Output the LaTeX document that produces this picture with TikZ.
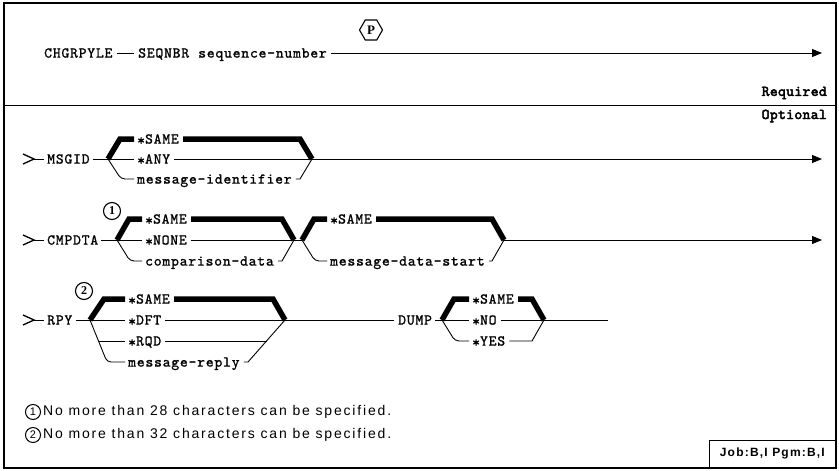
\documentclass[tikz,border=0pt]{standalone}
\usepackage{fontspec}
\usetikzlibrary{arrows.meta,shapes.symbols}
\newfontfamily\rf[LetterSpace=5,FakeBold=1.2]{lmmono10-regular.otf}
\newfontfamily\rqf[LetterSpace=2,FakeBold=3]{lmmono10-regular.otf}
\newfontfamily\notef[LetterSpace=13]{Liberation Sans}
\newfontfamily\jobf[LetterSpace=10]{Liberation Sans Bold}
\newfontfamily\numf{Liberation Serif Bold}
\newcommand\labfont{\rf\fontsize{15}{17}\selectfont}
\newcommand\stx{\raisebox{-1.5pt}{*}}
\begin{document}
\begin{tikzpicture}[x=1pt,y=-1pt,
  lab/.style={font=\labfont, inner sep=0pt, anchor=west, text height=9.2pt, text depth=0pt},
  ln/.style={line width=0.9pt},
  bar/.style={line width=5.5pt, line join=miter},
  arr/.style={ln, -{Triangle[length=10pt,width=8pt]}},
  chev/.style={line width=1.3pt},
  num/.style={draw, circle, line width=1.1pt, inner sep=0pt, minimum size=17pt, font=\numf\fontsize{12}{12}\selectfont},
  fnum/.style={draw, circle, line width=1pt, inner sep=0pt, minimum size=15pt, font=\notef\fontsize{11}{11}\selectfont},
  note/.style={font=\notef\fontsize{14}{16}\selectfont, inner sep=0pt, anchor=west},
  side/.style={font=\rqf\fontsize{15}{17}\selectfont, inner sep=0pt, anchor=east},
  hexa/.style={draw, line width=1.1pt, signal, signal to=west and east, signal pointer angle=120,
     inner sep=1pt, minimum width=23pt, minimum height=20pt, font=\numf\fontsize{13}{13}\selectfont}
]
\useasboundingbox (0,0) rectangle (839,471);
% frame
\draw[line width=1.3pt] (4,3) rectangle (836,468);
\draw[ln] (4,105) -- (836,105);

% ---------------- row 1
\node[lab] (chg) at (44,53) {CHGRPYLE};
\node[lab] (seqkw) at (138,53) {SEQNBR};
\node[lab] (seqv) at (198,53) {sequence-number};
\draw[ln] ([xshift=4pt]chg.east) -- ([xshift=-4pt]seqkw.west);
\coordinate (e1) at (822,53);
\draw[arr] ([xshift=4pt]seqv.east) -- (e1);
\node[hexa] (pp) at (371,30) {P};

\node[side] (req) at (827,93) {Required};
\node[side] (opt) at (827,116) {Optional};

% ---------------- MSGID
\coordinate (s1) at (23,159);
\draw[chev] (s1) ++(0,-5) -- ++(11,5) -- ++(-11,5);
\node[lab] (msgid) at (47,159) {MSGID};
\draw[ln] ([xshift=11pt]s1) -- ([xshift=-3pt]msgid.west);
\coordinate (f1) at (108,159);
\coordinate (j1) at (312,159);
\node[lab] (m1a) at (137,139) {\stx SAME};
\node[lab] (m1b) at (137,159) {\stx ANY};
\node[lab] (m1c) at (137,179) {message-identifier};
\draw[ln] ([xshift=3pt]msgid.east) -- (f1);
\draw[bar] (f1) -- (120,139) -- ([xshift=-3pt]m1a.west);
\draw[ln] (f1) -- ([xshift=-3pt]m1b.west);
\draw[ln, rounded corners=4pt] (f1) -- (121,179) -- ([xshift=-3pt]m1c.west);
\draw[bar] ([xshift=4pt]m1a.east) -- (300,139) -- (j1);
\draw[ln] ([xshift=4pt]m1b.east) -- (j1);
\draw[ln] ([xshift=4pt]m1c.east) -- (300,179) -- (j1);
\coordinate (e2) at (822,159);
\draw[arr] (j1) -- (e2);

% ---------------- CMPDTA
\coordinate (s2) at (23,240);
\draw[chev] (s2) ++(0,-5) -- ++(11,5) -- ++(-11,5);
\node[lab] (cmp) at (47,240) {CMPDTA};
\draw[ln] ([xshift=11pt]s2) -- ([xshift=-3pt]cmp.west);
\node[num] (n1) at (112,211) {1};
\coordinate (f2) at (117,240);
\coordinate (j2) at (294,240);
\node[lab] (c1a) at (145,219) {\stx SAME};
\node[lab] (c1b) at (145,240) {\stx NONE};
\node[lab] (c1c) at (145,261) {comparison-data};
\draw[ln] ([xshift=3pt]cmp.east) -- (f2);
\draw[bar] (f2) -- (129,219) -- ([xshift=-3pt]c1a.west);
\draw[ln] (f2) -- ([xshift=-3pt]c1b.west);
\draw[ln, rounded corners=4pt] (f2) -- (130,261) -- ([xshift=-3pt]c1c.west);
\draw[bar] ([xshift=4pt]c1a.east) -- (282,219) -- (j2);
\draw[ln] ([xshift=4pt]c1b.east) -- (j2);
\draw[ln] ([xshift=4pt]c1c.east) -- (282,261) -- (j2);
\coordinate (f3) at (302,240);
\coordinate (j3) at (504,240);
\draw[ln] (j2) -- (f3);
\node[lab] (c2a) at (330,219) {\stx SAME};
\node[lab] (c2b) at (330,261) {message-data-start};
\draw[bar] (f3) -- (314,219) -- ([xshift=-3pt]c2a.west);
\draw[ln, rounded corners=4pt] (f3) -- (315,261) -- ([xshift=-3pt]c2b.west);
\draw[bar] ([xshift=4pt]c2a.east) -- (492,219) -- (j3);
\draw[ln] ([xshift=4pt]c2b.east) -- (492,261) -- (j3);
\coordinate (e3) at (822,240);
\draw[arr] (j3) -- (e3);

% ---------------- RPY
\coordinate (s3) at (23,320);
\draw[chev] (s3) ++(0,-5) -- ++(11,5) -- ++(-11,5);
\node[lab] (rpy) at (47,320) {RPY};
\draw[ln] ([xshift=11pt]s3) -- ([xshift=-3pt]rpy.west);
\node[num] (n2) at (84,291) {2};
\coordinate (f4) at (90,320);
\coordinate (j4) at (285,320);
\node[lab] (r1a) at (128,299) {\stx SAME};
\node[lab] (r1b) at (128,320) {\stx DFT};
\node[lab] (r1c) at (128,341) {\stx RQD};
\node[lab] (r1d) at (128,362) {message-reply};
\draw[ln] ([xshift=3pt]rpy.east) -- (f4);
\draw[bar] (f4) -- (104,299) -- ([xshift=-3pt]r1a.west);
\draw[ln] (f4) -- ([xshift=-3pt]r1b.west);
\draw[ln, rounded corners=4pt] (f4) -- (107,362) -- ([xshift=-3pt]r1d.west);
\draw[ln] (98.5,341) -- ([xshift=-3pt]r1c.west);
\draw[bar] ([xshift=4pt]r1a.east) -- (273,299) -- (j4);
\draw[ln] ([xshift=4pt]r1b.east) -- (j4);
\draw[ln] ([xshift=4pt]r1d.east) -- (248,362) -- (j4);
\draw[ln] ([xshift=4pt]r1c.east) -- (266.5,341);
\node[lab] (dump) at (398,320) {DUMP};
\draw[ln] (j4) -- ([xshift=-4pt]dump.west);
\coordinate (f5) at (442,320);
\coordinate (j5) at (544,320);
\node[lab] (d1a) at (472,299) {\stx SAME};
\node[lab] (d1b) at (472,320) {\stx NO};
\node[lab] (d1c) at (472,341) {\stx YES};
\draw[ln] ([xshift=3pt]dump.east) -- (f5);
\draw[bar] (f5) -- (454,299) -- ([xshift=-3pt]d1a.west);
\draw[ln] (f5) -- ([xshift=-3pt]d1b.west);
\draw[ln, rounded corners=4pt] (f5) -- (455,341) -- ([xshift=-3pt]d1c.west);
\draw[bar] ([xshift=4pt]d1a.east) -- (532,299) -- (j5);
\draw[ln] ([xshift=4pt]d1b.east) -- (j5);
\draw[ln] ([xshift=4pt]d1c.east) -- (532,341) -- (j5);
\coordinate (e5) at (608,320);
\draw[ln] (j5) -- (e5);

% ---------------- notes
\node[fnum] (fn1) at (33,412) {1};
\node[note] (t1) at (43,412) {No more than 28 characters can be specified.};
\node[fnum] (fn2) at (33,435) {2};
\node[note] (t2) at (43,435) {No more than 32 characters can be specified.};

\node[draw, line width=1.3pt, anchor=south east, minimum width=126pt, minimum height=27pt,
      inner sep=2pt, font=\jobf\fontsize{12}{13}\selectfont] (job) at (836,468) {Job:B,I Pgm:B,I};
\end{tikzpicture}
\end{document}
